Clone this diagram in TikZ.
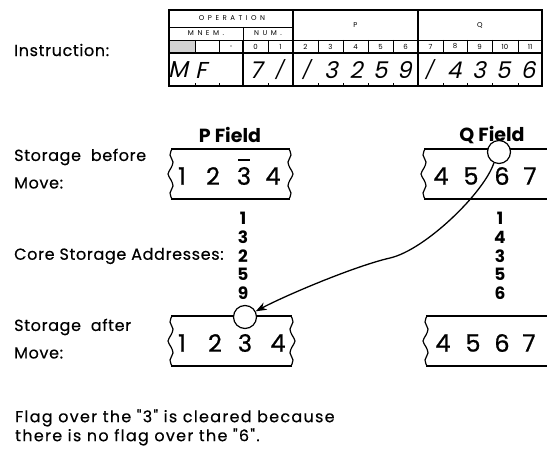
\documentclass[tikz,border=0pt]{standalone}
\usepackage{fontspec}
\setmainfont{Poppins}
\newfontfamily\hand[FakeSlant=0.22]{Poppins}
\newfontfamily\lblfont[FakeBold=0.4,LetterSpace=4]{Poppins}
\newfontfamily\notefont[FakeBold=0.4,LetterSpace=8]{Poppins}
\newfontfamily\cellfont[FakeBold=0.8]{Poppins}
\newfontfamily\hdrfont[LetterSpace=50]{Poppins}
\usetikzlibrary{arrows.meta}
\tikzset{
  thickline/.style={line width=1.3pt},
  thinline/.style={line width=0.7pt},
  boxline/.style={line width=1.2pt, line join=round},
  lbl/.style={anchor=west, inner sep=0pt, font=\fontsize{16}{18}\lblfont},
  note/.style={anchor=west, inner sep=0pt, font=\fontsize{16}{18}\notefont},
  hdr/.style={inner sep=0pt, font=\fontsize{7}{8}\hdrfont},
  dig/.style={inner sep=0pt, font=\fontsize{7}{8}\selectfont},
  big/.style={inner sep=0pt, font=\fontsize{23}{24}\hand},
  slashd/.style={inner sep=0pt, font=\fontsize{18}{20}\hand},
  cell/.style={inner sep=0pt, font=\fontsize{24}{26}\cellfont},
  addr/.style={inner sep=0pt, align=center, font=\fontsize{17}{18.7}\bfseries},
  fld/.style={inner sep=0pt, font=\fontsize{19}{20}\bfseries},
  flag/.style={circle, draw, fill=white, line width=1.2pt, minimum size=23pt, inner sep=0pt},
  conn/.style={line width=1.3pt, -{Stealth[length=11pt,width=8pt]}}
}
\newcommand\tornbox[4]{% left, right, top, bottom
  \pgfmathsetmacro\mmid{(#3+#4)/2}
  \draw[boxline] ({#1-1},#3) -- ({#2+1},#3);
  \draw[boxline] ({#1-1},#4) -- ({#2+1},#4);
  \draw[boxline] plot[smooth, tension=0.6] coordinates {(#1,#3) ({#1-2},{#3+6}) ({#1+1},{#3+13}) ({#1-1},{#3+19}) ({#1-4},\mmid) ({#1-1},{#4-19}) ({#1+1},{#4-13}) ({#1-2},{#4-6}) (#1,#4)};
  \draw[boxline] plot[smooth, tension=0.6] coordinates {(#2,#3) ({#2+2},{#3+6}) ({#2-1},{#3+13}) ({#2+1},{#3+19}) ({#2+4},\mmid) ({#2+1},{#4-19}) ({#2-1},{#4-13}) ({#2+2},{#4-6}) (#2,#4)};
}
\begin{document}
\begin{tikzpicture}[x=1pt,y=-1pt]
\useasboundingbox (0,0) rectangle (547,449);
\begin{scope}
\clip (0,0) rectangle (547,449);
% ---------- instruction table ----------
\node[lbl] (instr) at (14,50) {Instruction:};
\fill[gray!35] (169,40) rectangle (195,53);
\fill (231,46) circle (0.6);
\draw[thinline] (169,27) -- (293,27);
\draw[thinline] (169,40) -- (542,40);
\draw[thickline] (169,53) -- (542,53);
\foreach \x in {195,219,268,318,343,368,393,443,467,492,518}
  \draw[thinline] (\x,40) -- (\x,53);
\draw[thinline] (243,27) -- (243,40);
\draw[thickline] (243,40) -- (243,86);
\foreach \x in {293,418}
  \draw[thickline] (\x,10) -- (\x,86);
\foreach \x in {195,219,268,318,343,368,393,443,467,492,518}
  \draw[thinline] (\x,86) -- (\x,83);
\draw[thickline] (169,10) rectangle (542,86);
\node[hdr] (op) at (232,18.5) {OPERATION};
\node[hdr] (mn) at (206,33.5) {MNEM.};
\node[hdr] (nm) at (268,33.5) {NUM.};
\node[hdr] (hp) at (355.5,25) {P};
\node[hdr] (hq) at (480,25) {Q};
\foreach \d/\x in {0/255.5,1/280.5,2/305.5,3/330.5,4/355.5,5/380.5,6/405.5,7/430.5,8/455,9/479.5,10/505,11/530}
  \node[dig] at (\x,46.5) {\d};
\node[big] (m) at (178,70) {M};
\node[big] (f) at (201,70) {F};
\foreach \d/\x [count=\i] in {7/256,3/331,2/356,5/380,9/404,4/454,3/479,5/503,6/528}
  \node[big] (h\i) at (\x,70) {\d};
\foreach \x [count=\i] in {279,306,429}
  \node[slashd] (s\i) at (\x,70) {/};
% ---------- storage before ----------
\node[lbl] (sb1) at (14,157) {Storage\ \ before};
\node[lbl] (sb2) at (14,183) {Move:};
\node[fld] (pf) at (230,135) {P Field};
\node[fld] (qf) at (492,135) {Q Field};
\tornbox{172}{289}{149}{199}
\tornbox{425}{575}{149}{199}
\foreach \d/\x in {1/182,2/213,3/244,4/273}
  \node[cell] at (\x,176) {\d};
\draw[line width=1.4pt] (238,160) -- (250,160);
\foreach \d/\x in {4/441,5/471,6/502,7/530,9/556}
  \node[cell] at (\x,176) {\d};
% ---------- addresses ----------
\node[lbl] (csa) at (14,256) {Core Storage Addresses:};
\node[addr] (pa) at (243,256) {1\\3\\2\\5\\9};
\node[addr] (qa) at (500,256) {1\\4\\3\\5\\6};
% ---------- storage after ----------
\node[lbl] (sa1) at (14,327) {Storage\ \ after};
\node[lbl] (sa2) at (14,353) {Move:};
\tornbox{172}{291}{316}{366}
\tornbox{427}{575}{316}{366}
\foreach \d/\x in {1/182,2/215,3/245,4/278}
  \node[cell] at (\x,343) {\d};
\foreach \d/\x in {4/443,5/473,6/502,7/529,9/556}
  \node[cell] at (\x,343) {\d};
% ---------- flags and connector ----------
\node[flag] (qc) at (499,152) {};
\node[flag] (pc) at (245,317) {};
\coordinate (mid) at (390,258);
\draw[conn] (qc.245) .. controls +(-10,30) and +(35,-8) .. (mid) .. controls +(-35,8) and +(30,-16) .. (pc.28);
% ---------- note ----------
\node[note] (n1) at (15,418) {Flag over the "3" is cleared because};
\node[note] (n2) at (15,437) {there is no flag over the "6".};
\end{scope}
\end{tikzpicture}
\end{document}
